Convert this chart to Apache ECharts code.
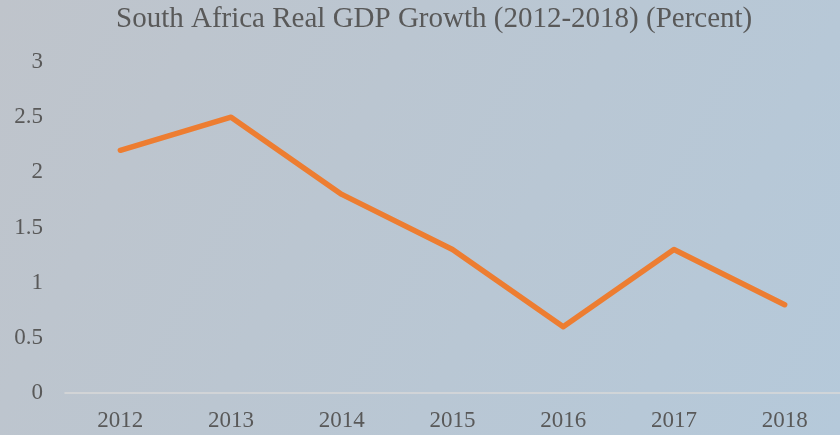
<!DOCTYPE html>
<html>
<head>
<meta charset="utf-8">
<script src="https://cdn.jsdelivr.net/npm/echarts@6/dist/echarts.min.js"></script>
<style>
  html, body { margin: 0; padding: 0; }
  #chart { width: 840px; height: 435px; }
</style>
</head>
<body>
<div id="chart"></div>
<script>
const years = ["2012", "2013", "2014", "2015", "2016", "2017", "2018"];
const growth = [2.2, 2.5, 1.8, 1.3, 0.6, 1.3, 0.8];
const yTicks = [0, 0.5, 1, 1.5, 2, 2.5, 3];

const textColor = "#595959";
const serif = "'Liberation Serif', 'DejaVu Serif', serif";

const chart = echarts.init(document.getElementById("chart"));
chart.setOption({
  backgroundColor: new echarts.graphic.LinearGradient(0, 0, 1, 1, [
    { offset: 0, color: "#bfc4cb" },
    { offset: 1, color: "#b5c9da" }
  ]),
  animation: false,
  title: {
    text: "South Africa Real GDP Growth (2012-2018) (Percent)",
    left: 111,
    top: 0,
    textStyle: { fontFamily: serif, fontSize: 29, fontWeight: "normal", color: textColor }
  },
  grid: { left: 65, top: 62, bottom: 42, width: 782 },
  xAxis: {
    type: "category",
    data: years,
    boundaryGap: true,
    axisLine: { lineStyle: { color: "#d9d9d9", width: 1.5 } },
    axisTick: { show: false },
    axisLabel: { fontFamily: serif, fontSize: 23, color: textColor, margin: 16 }
  },
  yAxis: {
    type: "value",
    min: yTicks[0],
    max: yTicks[yTicks.length - 1],
    interval: 0.5,
    splitLine: { show: false },
    axisLine: { show: false },
    axisTick: { show: false },
    axisLabel: { fontFamily: serif, fontSize: 23, color: textColor, margin: 22 }
  },
  series: [{
    type: "line",
    data: growth,
    symbol: "none",
    lineStyle: { color: "#ed7d31", width: 5.5, cap: "round", join: "round" }
  }]
});
</script>
</body>
</html>
